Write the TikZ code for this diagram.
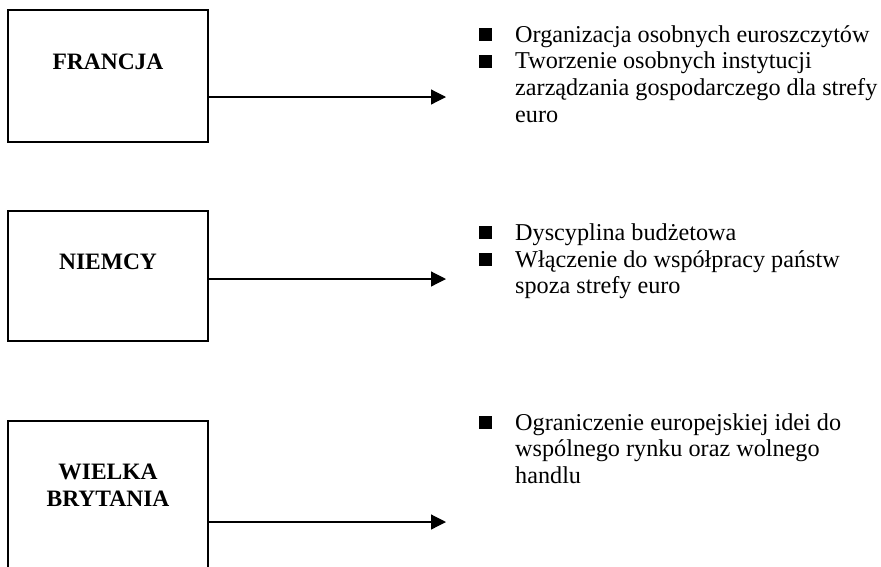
\documentclass[tikz,border=0pt]{standalone}
\usepackage{fontspec}
\setmainfont{Liberation Serif}
\usetikzlibrary{arrows.meta}
\tikzset{
  country/.style={draw,line width=1.3pt,minimum width=200pt,inner sep=0pt},
  countryname/.style={font=\fontsize{23.5}{27}\selectfont\bfseries,align=center,anchor=base,inner sep=0pt},
  bullet/.style={fill=black,minimum size=13pt,inner sep=0pt},
  item/.style={font=\fontsize{24.2}{26.7}\selectfont,align=left,anchor=base west,inner sep=0pt},
  arrow/.style={line width=1.2pt,-{Triangle[length=15pt,width=15pt]}}
}
\begin{document}
\begin{tikzpicture}[x=1pt,y=-1pt]
        \useasboundingbox (0,0) rectangle (881,566);
        \clip (0,0) rectangle (881,566);

        \node (fr) at (108,76) [country,minimum height=132pt] {};
        \node (de) at (108,276) [country,minimum height=130pt] {};
        \node (uk) at (108,511) [country,minimum height=180pt] {};

        % base anchor = baseline of the last line
        \node (frname) at (108,69) [countryname] {FRANCJA};
        \node (dename) at (108,269) [countryname] {NIEMCY};
        \node (ukname) at (108,506) [countryname] {WIELKA\\BRYTANIA};

        \coordinate (frtip) at (446,97);
        \coordinate (detip) at (446,279);
        \coordinate (uktip) at (446,522);
        \draw[arrow] (fr.east |- frtip) -- (frtip);
        \draw[arrow] (de.east |- detip) -- (detip);
        \draw[arrow] (uk.east |- uktip) -- (uktip);

        \node (frb1) at (485.5,34.5) [bullet] {};
        \node (frb2) at (485.5,61.2) [bullet] {};
        \node (deb1) at (485.5,232.5) [bullet] {};
        \node (deb2) at (485.5,259.5) [bullet] {};
        \node (ukb1) at (485.5,422.5) [bullet] {};

        \node (fri1) at (515,42) [item] {Organizacja osobnych euroszczytów};
        \node (fri2) at (515,122.1) [item] {Tworzenie osobnych instytucji\\zarządzania gospodarczego dla strefy\\euro};
        \node (dei1) at (515,240) [item] {Dyscyplina budżetowa};
        \node (dei2) at (515,293.7) [item] {Włączenie do współpracy państw\\spoza strefy euro};
        \node (uki1) at (515,483.4) [item] {Ograniczenie europejskiej idei do\\wspólnego rynku oraz wolnego\\handlu};
      \end{tikzpicture}
\end{document}
